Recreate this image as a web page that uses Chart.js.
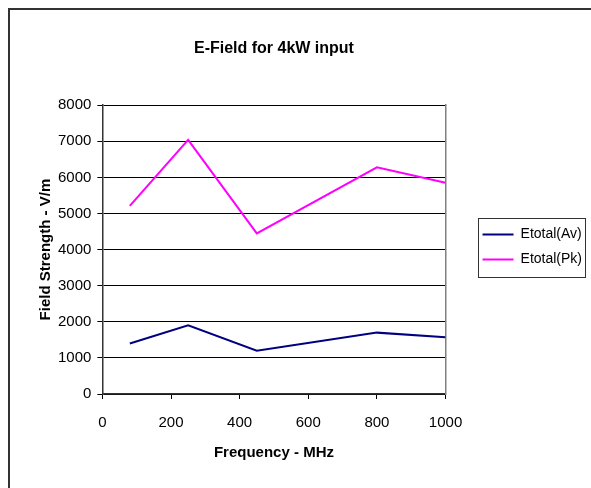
<!DOCTYPE html>
<html>
<head>
<meta charset="utf-8">
<script src="https://cdn.jsdelivr.net/npm/chart.js@4/dist/chart.umd.min.js"></script>
<style>
  html, body { margin: 0; padding: 0; background: #fff; overflow: hidden; }
  #frame { position: absolute; left: 8px; top: 8px; width: 700px; height: 600px; border: 2px solid #333; }
  #wrap { position: absolute; left: 0; top: 0; width: 591px; height: 488px; }
</style>
</head>
<body>
<div id="frame"></div>
<div id="wrap"><canvas id="efieldChart" width="591" height="488"></canvas></div>
<script>
// Dados
const freqMHz = [80, 250, 450, 800, 1000];
const etotalAv = [1400, 1900, 1200, 1700, 1570];
const etotalPk = [5210, 7040, 4450, 6280, 5850];
const yTicks = [0, 1000, 2000, 3000, 4000, 5000, 6000, 7000, 8000];
const xTicks = [0, 200, 400, 600, 800, 1000];

const fontFamily = '"Liberation Sans", Arial, sans-serif';

// Caixa em volta da legenda
const legendBoxPlugin = {
  id: 'legendBox',
  afterDraw(chart) {
    const boxes = chart.legend && chart.legend.legendHitBoxes;
    if (!boxes || !boxes.length) return;
    const ctx = chart.ctx;
    let l = Infinity, t = Infinity, r = -Infinity, b = -Infinity;
    boxes.forEach(h => {
      l = Math.min(l, h.left); t = Math.min(t, h.top);
      r = Math.max(r, h.left + h.width); b = Math.max(b, h.top + h.height);
    });
    ctx.save();
    ctx.strokeStyle = '#333';
    ctx.lineWidth = 1;
    ctx.strokeRect(Math.round(l - 5) + 0.5, Math.round(t - 10) + 0.5, Math.round(r - l + 8), Math.round(b - t + 20));
    ctx.restore();
  }
};

function initEFieldChart() {
  const ctx = document.getElementById('efieldChart');
  if (!ctx) return;

  new Chart(ctx, {
    type: 'line',
    data: {
      datasets: [{
        label: 'Etotal(Av)',
        data: freqMHz.map((f, i) => ({ x: f, y: etotalAv[i] })),
        borderColor: '#000080',
        backgroundColor: '#000080',
        borderWidth: 2,
        pointRadius: 0,
        tension: 0,
        fill: false
      }, {
        label: 'Etotal(Pk)',
        data: freqMHz.map((f, i) => ({ x: f, y: etotalPk[i] })),
        borderColor: '#FF00FF',
        backgroundColor: '#FF00FF',
        borderWidth: 2,
        pointRadius: 0,
        tension: 0,
        fill: false
      }]
    },
    options: {
      responsive: false,
      animation: false,
      devicePixelRatio: 1,
      layout: { padding: { left: 33, right: -1, top: 0, bottom: 24 } },
      plugins: {
        title: {
          display: true,
          text: 'E-Field for 4kW input',
          fullSize: false,
          color: '#000',
          font: { family: fontFamily, size: 16, weight: 'bold' },
          padding: { top: 39, bottom: 47 }
        },
        legend: {
          position: 'right',
          maxWidth: 140,
          title: {
            display: true,
            text: '',
            font: { family: fontFamily, size: 15 },
            padding: { top: 12, bottom: 0 }
          },
          labels: {
            usePointStyle: true,
            pointStyle: 'line',
            pointStyleWidth: 31,
            color: '#000',
            font: { family: fontFamily, size: 14 },
            padding: 11
          }
        },
        tooltip: { enabled: false }
      },
      scales: {
        x: {
          type: 'linear',
          min: 0,
          max: 1000,
          afterBuildTicks: axis => { axis.ticks = xTicks.map(v => ({ value: v })); },
          ticks: {
            color: '#000',
            font: { family: fontFamily, size: 15 },
            padding: 15,
            maxRotation: 0,
            callback: v => String(v)
          },
          grid: { drawOnChartArea: false, color: '#000', tickLength: 5, tickColor: '#000' },
          border: { color: '#333', width: 1.5 },
          title: {
            display: true,
            text: 'Frequency - MHz',
            color: '#000',
            font: { family: fontFamily, size: 15, weight: 'bold' },
            padding: { top: -3, bottom: 2 }
          }
        },
        y: {
          min: 0,
          max: 8000,
          afterBuildTicks: axis => { axis.ticks = yTicks.map(v => ({ value: v })); },
          ticks: {
            color: '#000',
            font: { family: fontFamily, size: 15 },
            padding: 6,
            callback: v => String(v)
          },
          grid: { color: '#000', lineWidth: 1, tickLength: 5, tickColor: '#000' },
          border: { color: '#333', width: 1.5 },
          title: {
            display: true,
            text: 'Field Strength - V/m',
            color: '#000',
            font: { family: fontFamily, size: 15, weight: 'bold' },
            padding: { top: 4, bottom: -3 }
          }
        },
        // eixo vazio à direita: só a borda cinza da área do gráfico
        y2: {
          position: 'right',
          min: 0,
          max: 8000,
          ticks: { display: false },
          grid: { drawOnChartArea: false, drawTicks: false },
          border: { color: '#808080', width: 1.5 },
          afterFit: axis => { axis.width = 26; }
        }
      }
    },
    plugins: [legendBoxPlugin]
  });
}

document.addEventListener('DOMContentLoaded', () => {
  initEFieldChart();
});
</script>
</body>
</html>
